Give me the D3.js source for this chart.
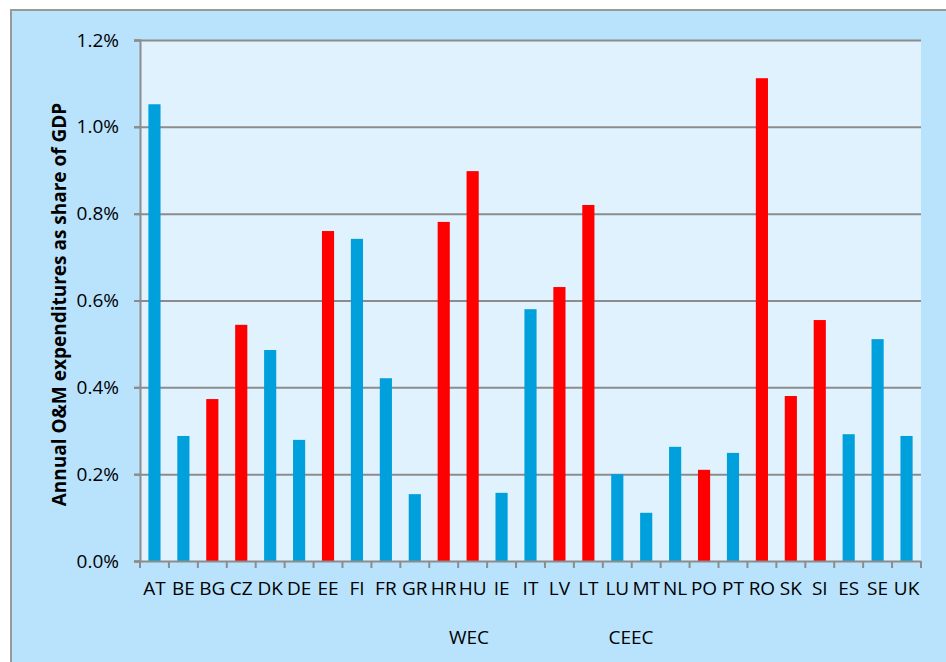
<!DOCTYPE html>
<html lang="en">
<head>
    <meta charset="UTF-8">
    <title>Annual O&amp;M expenditures</title>
    <style>
        body { margin: 0; background: #ffffff; }
        svg text { font-family: "Open Sans", "Noto Sans", sans-serif; fill: #000; }
    </style>
    <script src="https://d3js.org/d3.v7.min.js"></script>
</head>
<body>
<div id="chart"></div>
<script>
    // country codes along the x axis
    var countries = ["AT","BE","BG","CZ","DK","DE","EE","FI","FR","GR","HR","HU","IE","IT",
        "LV","LT","LU","MT","NL","PO","PT","RO","SK","SI","ES","SE","UK"];
    // share of GDP, in %
    var shares = [1.052,0.288,0.373,0.544,0.486,0.279,0.760,0.742,0.421,0.154,0.781,0.898,0.157,0.580,
        0.631,0.820,0.200,0.111,0.263,0.210,0.249,1.112,0.380,0.555,0.292,0.511,0.288];
    // group of each country
    var groups = ["WEC","WEC","CEEC","CEEC","WEC","WEC","CEEC","WEC","WEC","WEC","CEEC","CEEC","WEC","WEC",
        "CEEC","CEEC","WEC","WEC","WEC","CEEC","WEC","CEEC","CEEC","CEEC","WEC","WEC","WEC"];
    var yTicks = [0, 0.2, 0.4, 0.6, 0.8, 1.0, 1.2];
    var legendLabels = ["WEC", "CEEC"];

    var width = 946, height = 662;
    var margin = {left:140, right:25, top:40, bottom:101};
    var colors = {WEC:"#00a0dc", CEEC:"#ff0000"};
    var gridColor = "#8c8c8c";

    var data = countries.map(function(c, i){
        return {country:c, share:shares[i], group:groups[i]};
    });

    var svg = d3.select("#chart").append("svg")
        .attr("width", width)
        .attr("height", height);

    // outer chart area
    svg.append("rect")
        .attr("x", 11).attr("y", 10)
        .attr("width", width).attr("height", height)
        .attr("fill", "#b9e3fd")
        .attr("stroke", "#999").attr("stroke-width", 2);

    var x = d3.scaleBand()
        .domain(countries)
        .range([margin.left, width - margin.right])
        .paddingInner(0.58)
        .paddingOuter(0.29);

    var y = d3.scaleLinear()
        .domain([0, 1.2])
        .range([height - margin.bottom, margin.top]);

    // plot area
    svg.append("rect")
        .attr("x", margin.left).attr("y", margin.top)
        .attr("width", width - margin.right - margin.left)
        .attr("height", height - margin.bottom - margin.top)
        .attr("fill", "#e0f2fe");

    // gridlines
    svg.append("g")
        .selectAll("line")
        .data(yTicks.slice(1))
        .enter().append("line")
        .attr("x1", margin.left - 6)
        .attr("x2", width - margin.right)
        .attr("y1", function(d){ return y(d) + 0.5; })
        .attr("y2", function(d){ return y(d) + 0.5; })
        .attr("stroke", gridColor)
        .attr("stroke-width", 2);

    // bars
    svg.append("g")
        .selectAll("rect")
        .data(data)
        .enter().append("rect")
        .attr("x", function(d){ return x(d.country); })
        .attr("y", function(d){ return y(d.share); })
        .attr("width", x.bandwidth())
        .attr("height", function(d){ return y(0) - y(d.share); })
        .attr("fill", function(d){ return colors[d.group]; });

    // y axis
    var yAxis = svg.append("g")
        .attr("transform", "translate(" + margin.left + ",0)")
        .call(d3.axisLeft(y).tickValues(yTicks).tickSize(6).tickPadding(15)
            .tickFormat(function(d){ return d.toFixed(1) + "%"; }));
    yAxis.select(".domain").attr("stroke", gridColor).attr("stroke-width", 2);
    yAxis.selectAll(".tick line").attr("stroke", gridColor).attr("stroke-width", 2);
    yAxis.selectAll("text").style("font-size", "19px");

    // x axis with ticks at category boundaries
    var xAxisG = svg.append("g")
        .attr("transform", "translate(0," + (height - margin.bottom) + ")");
    xAxisG.append("line")
        .attr("x1", margin.left - 6).attr("x2", width - margin.right)
        .attr("y1", 0.5).attr("y2", 0.5)
        .attr("stroke", gridColor).attr("stroke-width", 2);
    var boundaryX = countries.map(function(c){ return x(c) - x.step() * x.paddingInner() / 2; });
    boundaryX.push(width - margin.right);
    xAxisG.selectAll(".xt")
        .data(boundaryX)
        .enter().append("line")
        .attr("class", "xt")
        .attr("x1", function(d){ return d; }).attr("x2", function(d){ return d; })
        .attr("y1", 0).attr("y2", 7)
        .attr("stroke", gridColor).attr("stroke-width", 2);
    xAxisG.selectAll(".xl")
        .data(countries)
        .enter().append("text")
        .attr("class", "xl")
        .attr("x", function(d){ return x(d) + x.bandwidth() / 2; })
        .attr("y", 34)
        .attr("text-anchor", "middle")
        .style("font-size", "19px")
        .text(function(d){ return d; });

    // legend (text only)
    svg.selectAll(".legend")
        .data(legendLabels)
        .enter().append("text")
        .attr("class", "legend")
        .attr("x", function(d, i){ return 469 + i * 162; })
        .attr("y", 644)
        .attr("text-anchor", "middle")
        .style("font-size", "19px")
        .text(function(d){ return d; });

    // y axis title
    svg.append("text")
        .attr("transform", "translate(66," + ((margin.top + height - margin.bottom) / 2 + 4) + ") rotate(-90)")
        .attr("text-anchor", "middle")
        .style("font-size", "19px")
        .style("font-weight", "bold")
        .text("Annual O&M expenditures as share of GDP");
</script>
</body>
</html>
